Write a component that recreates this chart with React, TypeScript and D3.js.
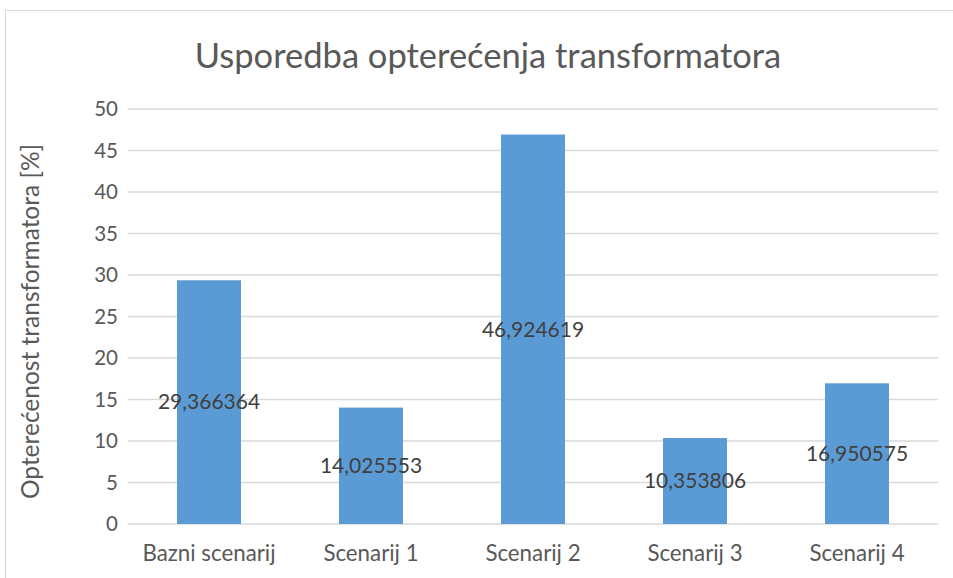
import * as d3 from "d3";

const categories = ["Bazni scenarij", "Scenarij 1", "Scenarij 2", "Scenarij 3", "Scenarij 4"];
const values = [29.366364, 14.025553, 46.924619, 10.353806, 16.950575];
const yTicks = [0, 5, 10, 15, 20, 25, 30, 35, 40, 45, 50];
const valueLabels = ["29,366364", "14,025553", "46,924619", "10,353806", "16,950575"];

const W = 953;
const H = 578;
const font = "Lato, 'Open Sans', sans-serif";

export default function App() {
  const left = 128, right = 938, top = 109, bottom = 524;
  const x = d3.scaleBand<string>().domain(categories).range([left, right]).padding(0);
  const y = d3.scaleLinear().domain([0, 50]).range([bottom, top]);
  const barW = x.bandwidth() * 0.395;

  return (
    <svg width={W} height={H} style={{ position: "absolute", left: 0, top: 0, background: "#fff" }}
      fontFamily={font}>
      <rect x={5.5} y={10.5} width={W + 20} height={H + 20} fill="#fff" stroke="#d9d9d9" />
      <text x={488} y={68} textAnchor="middle" fontSize={34.5} fill="#595959">
        Usporedba opterećenja transformatora
      </text>
      {/* gridlines */}
      <g stroke="#d9d9d9" strokeWidth={1.5}>
        {yTicks.map(t => (
          <line key={t} x1={left} x2={right} y1={y(t)} y2={y(t)} />
        ))}
      </g>
      <g fontSize={20.5} fill="#595959" textAnchor="end">
        {yTicks.map(t => (
          <text key={t} x={118} y={y(t)} dy="0.35em">{t}</text>
        ))}
      </g>
      <text transform={`translate(39,${(top + bottom) / 2 + 5}) rotate(-90)`} textAnchor="middle"
        fontSize={24.5} fill="#595959">
        Opterećenost transformatora [%]
      </text>
      {/* bars */}
      {categories.map((c, i) => (
        <rect key={c} x={x(c)! + x.bandwidth() / 2 - barW / 2} y={y(values[i])}
          width={barW} height={y(0) - y(values[i])} fill="#5b9bd5" />
      ))}
      <g fontSize={21} fill="#404040" textAnchor="middle">
        {categories.map((c, i) => (
          <text key={c} x={x(c)! + x.bandwidth() / 2} y={(y(values[i]) + y(0)) / 2} dy="0.35em">
            {valueLabels[i]}
          </text>
        ))}
      </g>
      <g fontSize={22.3} fill="#595959" textAnchor="middle">
        {categories.map(c => (
          <text key={c} x={x(c)! + x.bandwidth() / 2} y={553} dy="0.35em">{c}</text>
        ))}
      </g>
    </svg>
  );
}
